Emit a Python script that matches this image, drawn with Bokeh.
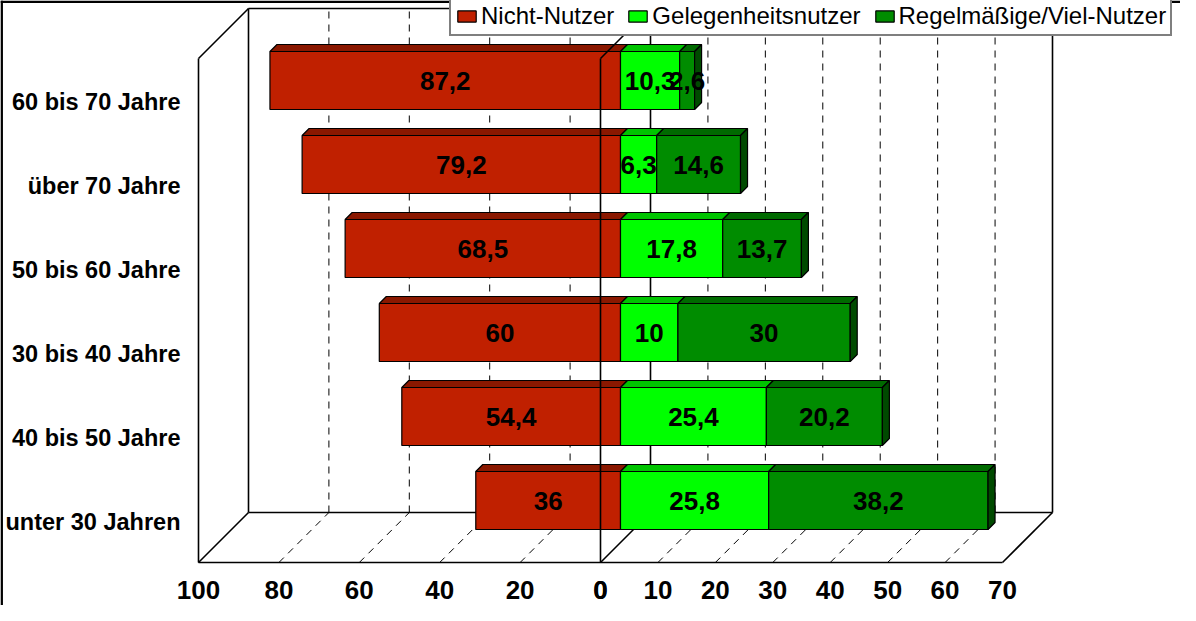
import numpy as np
from bokeh.plotting import figure
from bokeh.models import Range1d, Span, Legend, LegendItem
from bokeh.embed import file_html
from bokeh.resources import INLINE
from bokeh.core.properties import value

# ---------------- data ----------------
categories = ["unter 30 Jahren", "40 bis 50 Jahre", "30 bis 40 Jahre",
              "50 bis 60 Jahre", "über 70 Jahre", "60 bis 70 Jahre"]
nicht_nutzer = [36.0, 54.4, 60.0, 68.5, 79.2, 87.2]
gelegenheitsnutzer = [25.8, 25.4, 10.0, 17.8, 6.3, 10.3]
regelmaessig = [38.2, 20.2, 30.0, 13.7, 14.6, 2.6]
series_names = ["Nicht-Nutzer", "Gelegenheitsnutzer", "Regelmäßige/Viel-Nutzer"]
left_ticks = [100, 80, 60, 40, 20, 0]
right_ticks = [0, 10, 20, 30, 40, 50, 60, 70]
LEFT_MAX = 100
RIGHT_MAX = 70

# ---------------- styling / geometry ----------------
FONT = "Liberation Sans"
PX = 4.02          # px per left unit (front plane)
PY = 84.0          # px per category
W, H = 1180, 605
X_ZERO = 600       # canvas px of the front zero line
Y_FLOOR = 562      # canvas px of the front floor edge
K = LEFT_MAX / RIGHT_MAX           # right-side scale factor
BDX, BDY = 50 / PX, 50 / PY        # depth of the 3D box
F = 0.4                            # depth position of the bars
SDX, SDY = 7 / PX, 7 / PY          # bar thickness
BAR_H = 58 / PY
NCAT = len(categories)

red_front, red_top = "#C02000", "#8A1800"
lg_front, lg_top = "#00FF00", "#00C400"
dg_front, dg_top, dg_side = "#008C00", "#006A00", "#004A00"


def uL(v):
    return -np.asarray(v, dtype=float)


def uR(v):
    return np.asarray(v, dtype=float) * K


def fmt(v):
    return f"{v:g}".replace(".", ",")


p = figure(width=W, height=H, output_backend="svg", toolbar_location=None,
           x_range=Range1d(-X_ZERO / PX, (W - X_ZERO) / PX),
           y_range=Range1d(-(H - Y_FLOOR) / PY, Y_FLOOR / PY),
           x_axis_type=None, y_axis_type=None, min_border=0)
p.grid.visible = False
p.outline_line_color = None
p.background_fill_color = "white"
p.border_fill_color = "white"

top_y = NCAT
L0, R0 = uL(LEFT_MAX), uR(RIGHT_MAX)

# ---------------- walls & floor ----------------
solid_x0 = [L0 + BDX, L0 + BDX, L0 + BDX, R0 + BDX, L0, L0, L0, L0, R0, BDX, 0]
solid_y0 = [BDY, top_y + BDY, BDY, BDY, 0, top_y, 0, 0, 0, BDY, 0]
solid_x1 = [L0 + BDX, R0 + BDX, R0 + BDX, R0 + BDX, L0, L0 + BDX, L0 + BDX, R0, R0 + BDX, BDX, BDX]
solid_y1 = [top_y + BDY, top_y + BDY, BDY, top_y + BDY, top_y, top_y + BDY, BDY, 0, BDY, top_y + BDY, BDY]
p.segment(solid_x0, solid_y0, solid_x1, solid_y1, line_color="black", line_width=1.6)

grid_u = np.array(list(uL([t for t in left_ticks if 0 < t < LEFT_MAX])) +
                  list(uR([t for t in right_ticks if 0 < t < RIGHT_MAX])))
# back wall grid
p.segment(grid_u + BDX, [BDY] * len(grid_u), grid_u + BDX, [top_y + BDY] * len(grid_u),
          line_color="black", line_width=1, line_dash="7 6")
# floor grid
p.segment(grid_u, [0] * len(grid_u), grid_u + BDX, [BDY] * len(grid_u),
          line_color="black", line_width=1, line_dash="7 6")

# ---------------- bars ----------------
idx = np.arange(NCAT)
yc = idx + 0.5 + F * BDY
bottom = yc - BAR_H / 2
top = yc + BAR_H / 2
x0 = F * BDX

nn = np.array(nicht_nutzer)
gl = np.array(gelegenheitsnutzer)
rg = np.array(regelmaessig)

segs = [
    (x0 + uL(nn), np.full(NCAT, x0), red_front, red_top),
    (np.full(NCAT, x0), x0 + uR(gl), lg_front, lg_top),
    (x0 + uR(gl), x0 + uR(gl + rg), dg_front, dg_top),
]

front_renderers = []
for (lft, rgt, cf, ct) in segs:
    xs = [[a, b, b + SDX, a + SDX] for a, b in zip(lft, rgt)]
    ys = [[t, t, t + SDY, t + SDY] for t in top]
    p.patches(xs, ys, fill_color=ct, line_color="black", line_width=1.2)
    r = p.quad(left=lft, right=rgt, bottom=bottom, top=top,
               fill_color=cf, line_color="black", line_width=1.2)
    front_renderers.append(r)

# right end face of the last segment
end = x0 + uR(gl + rg)
xs = [[e, e + SDX, e + SDX, e] for e in end]
ys = [[b, b + SDY, t + SDY, t] for b, t in zip(bottom, top)]
p.patches(xs, ys, fill_color=dg_side, line_color="black", line_width=1.2)

# zero divider in front of bars
p.segment([0, 0], [0, top_y], [0, BDX], [top_y, top_y + BDY], line_color="black", line_width=1.6)

# ---------------- value labels ----------------
lab_x, lab_y, lab_t = [], [], []
for (lft, rgt, _, _), vals in zip(segs, [nn, gl, rg]):
    for i in range(NCAT):
        lab_x.append((lft[i] + rgt[i]) / 2)
        lab_y.append(yc[i])
        lab_t.append(fmt(vals[i]))
p.text(x=lab_x, y=lab_y, text=lab_t, text_align="center", text_baseline="middle",
       text_font=value(FONT), text_font_style="bold", text_font_size="26px", text_color="black")

# ---------------- category labels ----------------
p.text(x=[L0 - 18 / PX] * NCAT, y=idx + 0.5 - 1.5 / PY, text=categories,
       text_align="right", text_baseline="middle",
       text_font=value(FONT), text_font_style="bold", text_font_size="23.5px", text_color="black")

# ---------------- x tick labels ----------------
tick_u = list(uL(left_ticks)) + list(uR(right_ticks))
tick_t = [str(t) for t in left_ticks] + [str(t) for t in right_ticks]
p.text(x=tick_u, y=[-27 / PY] * len(tick_u), text=tick_t,
       text_align="center", text_baseline="middle",
       text_font=value(FONT), text_font_style="bold", text_font_size="26px", text_color="black")

# ---------------- chart border (left / top) ----------------
p.add_layout(Span(location=-X_ZERO / PX + 1.2 / PX, dimension="height", line_color="black", line_width=2.5))
p.add_layout(Span(location=Y_FLOOR / PY - 1.2 / PY, dimension="width", line_color="black", line_width=2.5))

# ---------------- legend ----------------
legend = Legend(items=[LegendItem(label=n, renderers=[r]) for n, r in zip(series_names, front_renderers)],
                orientation="horizontal", location=(449, 569),
                label_text_font=FONT, label_text_font_size="24px", label_text_color="black",
                glyph_width=23, glyph_height=14, label_standoff=3, spacing=12,
                padding=4, margin=0, border_line_color="black", border_line_width=2,
                background_fill_color="white", background_fill_alpha=1.0)
p.add_layout(legend, "center")

open("out.html", "w").write(file_html(p, INLINE))
